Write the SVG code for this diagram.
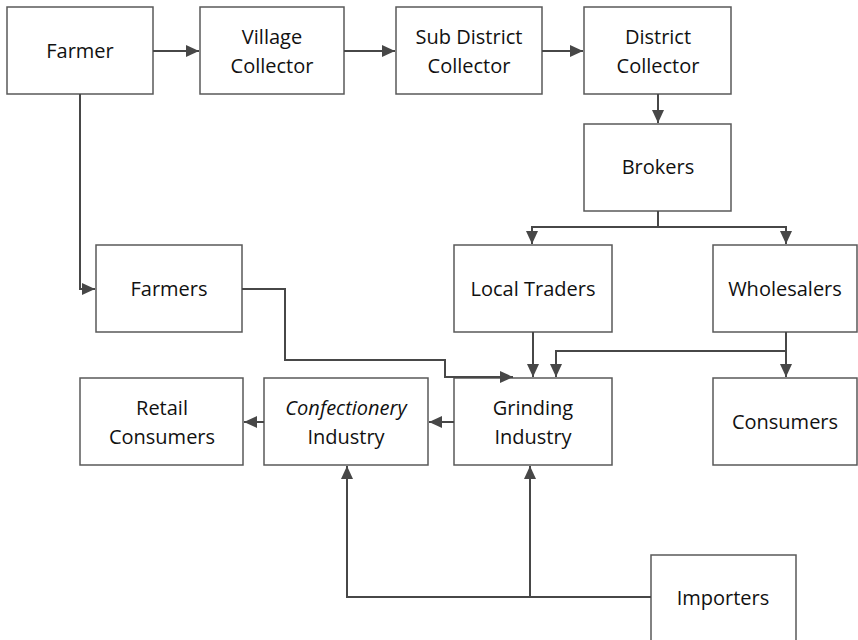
<svg xmlns="http://www.w3.org/2000/svg" width="858" height="640" viewBox="0 0 858 640">
<style>
.box{fill:#fff;stroke:#595959;stroke-width:1.5}
.t{font-family:"Open Sans","Liberation Sans",sans-serif;font-size:20px;fill:#111;text-anchor:middle}
.c{fill:none;stroke:#474747;stroke-width:2}
</style>
<defs>
<marker id="ah" markerUnits="userSpaceOnUse" markerWidth="14" markerHeight="12" refX="13" refY="6" orient="auto">
<path d="M0,0 L13,6 L0,12 z" fill="#474747"/>
</marker>
</defs>
<rect width="858" height="640" fill="#fff"/>
<g id="farmer"><rect class="box" x="7" y="7" width="146" height="87"/><text class="t" x="80" y="58">Farmer</text></g>
<g id="village-collector"><rect class="box" x="200" y="7" width="144" height="87"/><text class="t" x="272" y="44">Village</text><text class="t" x="272" y="73">Collector</text></g>
<g id="sub-district-collector"><rect class="box" x="396" y="7" width="146" height="87"/><text class="t" x="469" y="44">Sub District</text><text class="t" x="469" y="73">Collector</text></g>
<g id="district-collector"><rect class="box" x="584" y="7" width="147" height="87"/><text class="t" x="658" y="44">District</text><text class="t" x="658" y="73">Collector</text></g>
<g id="brokers"><rect class="box" x="584" y="124" width="147" height="87"/><text class="t" x="658" y="174">Brokers</text></g>
<g id="farmers"><rect class="box" x="96" y="245" width="146" height="87"/><text class="t" x="169" y="296">Farmers</text></g>
<g id="local-traders"><rect class="box" x="454" y="245" width="158" height="87"/><text class="t" x="533" y="296">Local Traders</text></g>
<g id="wholesalers"><rect class="box" x="713" y="245" width="144" height="87"/><text class="t" x="785" y="296">Wholesalers</text></g>
<g id="retail-consumers"><rect class="box" x="80" y="378" width="163" height="87"/><text class="t" x="162" y="415">Retail</text><text class="t" x="162" y="444">Consumers</text></g>
<g id="confectionery-industry"><rect class="box" x="264" y="378" width="164" height="87"/><text class="t" x="346" y="415" font-style="italic">Confectionery</text><text class="t" x="346" y="444">Industry</text></g>
<g id="grinding-industry"><rect class="box" x="454" y="378" width="158" height="87"/><text class="t" x="533" y="415">Grinding</text><text class="t" x="533" y="444">Industry</text></g>
<g id="consumers"><rect class="box" x="713" y="378" width="144" height="87"/><text class="t" x="785" y="429">Consumers</text></g>
<g id="importers"><rect class="box" x="651" y="555" width="145" height="90"/><text class="t" x="723" y="605">Importers</text></g>
<g id="connectors">
<path class="c" d="M153,51 H199" marker-end="url(#ah)"/>
<path class="c" d="M344,51 H395" marker-end="url(#ah)"/>
<path class="c" d="M542,51 H583" marker-end="url(#ah)"/>
<path class="c" d="M658,94 V123" marker-end="url(#ah)"/>
<path class="c" d="M658,211 V227 H532 V244" marker-end="url(#ah)"/>
<path class="c" d="M658,227 H786 V244" marker-end="url(#ah)"/>
<path class="c" d="M80,94 V289 H95" marker-end="url(#ah)"/>
<path class="c" d="M242,289 H285 V360 H445 V377 H513" marker-end="url(#ah)"/>
<path class="c" d="M533,332 V377" marker-end="url(#ah)"/>
<path class="c" d="M786,332 V377" marker-end="url(#ah)"/>
<path class="c" d="M786,351 H556 V377" marker-end="url(#ah)"/>
<path class="c" d="M454,422 H429" marker-end="url(#ah)"/>
<path class="c" d="M264,422 H244" marker-end="url(#ah)"/>
<path class="c" d="M651,597 H347 V466" marker-end="url(#ah)"/>
<path class="c" d="M530,597 V466" marker-end="url(#ah)"/>
</g>
</svg>
